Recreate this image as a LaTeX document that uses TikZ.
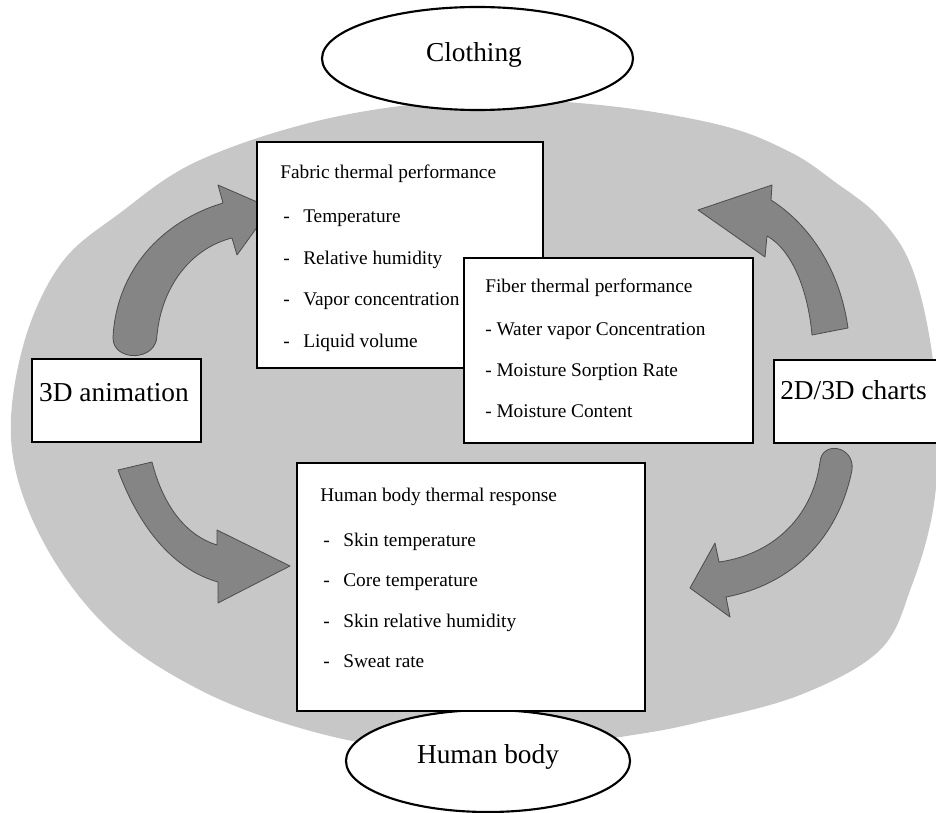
\documentclass[tikz,border=0pt]{standalone}
\usepackage{fontspec}
\setmainfont{Liberation Serif}
\usetikzlibrary{shapes.geometric}
\begin{document}
\begin{tikzpicture}[x=0.75pt,y=-0.75pt,
  field/.style={fill=black!22},
  flow/.style={fill=black!48, draw=black!70, line width=0.6pt, line join=round},
  frame/.style={draw=black, line width=1.7pt, fill=white, anchor=north west, inner sep=0pt, outer sep=0pt},
  oval/.style={ellipse, draw=black, line width=1.6pt, fill=white, inner sep=0pt},
  bigtext/.style={inner sep=0pt, font=\fontsize{20.5}{24}\selectfont},
  item/.style={anchor=west, inner sep=0pt, text height=10pt, text depth=3pt,
    font=\fontsize{14.5}{17}\selectfont}]
\useasboundingbox (0,0) rectangle (936,813);

% stippled background field
\fill[field] plot[smooth cycle, tension=0.6] coordinates {
  (470,100) (600,105) (720,125) (790,152) (835,182) (878,216) (910,263)
  (930,340) (938,430) (933,510) (912,585) (880,650) (800,695) (700,722)
  (633,735) (520,750) (400,748) (300,728) (200,690) (110,630) (45,545)
  (12,450) (22,350) (60,265) (120,213) (200,160) (330,118)};

% curved block arrows
\path[flow] (113,338) .. controls (116,272) and (160,222) .. (223,203)
  -- (218,185) -- (271,208) -- (237,255) -- (232,238)
  .. controls (192,248) and (162,285) .. (157,335)
  .. controls (157,362) and (113,362) .. (113,338) -- cycle;
\path[flow] (812,335) .. controls (808,290) and (792,250) .. (767,236)
  -- (765,257) -- (698,210) -- (772,185) -- (771,200)
  .. controls (810,225) and (840,270) .. (848,328) -- cycle;
\path[flow] (118,470) -- (152,462) .. controls (163,505) and (185,535) .. (217,545)
  -- (217,530) -- (290,566) -- (218,603) -- (218,582)
  .. controls (175,570) and (140,530) .. (118,470) -- cycle;
\path[flow] (820,462) .. controls (812,520) and (770,555) .. (719,562)
  -- (715,543) -- (690,588) -- (730,617) -- (726,597)
  .. controls (790,585) and (838,540) .. (852,470)
  .. controls (855,446) and (822,440) .. (820,462) -- cycle;

% top and bottom ovals
\node[oval, minimum width=233.25pt, minimum height=77.25pt] (clothing) at (477.5,58.5) {};
\node[bigtext] (clothinglabel) at (474,55) {Clothing};
\node[oval, minimum width=213pt, minimum height=76.5pt] (human) at (488,761) {};
\node[bigtext] (humanlabel) at (488,757) {Human body};

% side boxes
\node[frame, minimum width=126.75pt, minimum height=62.25pt] (anim) at (32,359) {};
\node[bigtext] (animlabel) at (114,393) {3D animation};
\node[frame, minimum width=132pt, minimum height=62.25pt] (charts) at (774,360) {};
\node[bigtext, anchor=west] (chartslabel) at (780,390) {2D/3D charts};

% fabric box
\node[frame, minimum width=214.5pt, minimum height=169.5pt] (fabric) at (257,142) {};
\node[item] (fabrict) at (280,174) {Fabric thermal performance};
\node[item] (fabd1) at (283,218) {-};
\node[item] (fab1) at (303,218) {Temperature};
\node[item] (fabd2) at (283,260) {-};
\node[item] (fab2) at (303,260) {Relative humidity};
\node[item] (fabd3) at (283,301) {-};
\node[item] (fab3) at (303,301) {Vapor concentration};
\node[item] (fabd4) at (283,343) {-};
\node[item] (fab4) at (303,343) {Liquid volume};

% fiber box
\node[frame, minimum width=216.75pt, minimum height=138.75pt] (fiber) at (464,258) {};
\node[item] (fibert) at (485,288) {Fiber thermal performance};
\node[item] (fib1) at (485,331) {- Water vapor Concentration};
\node[item] (fib2) at (485,372) {- Moisture Sorption Rate};
\node[item] (fib3) at (485,413) {- Moisture Content};

% human body box
\node[frame, minimum width=261pt, minimum height=186pt] (body) at (297,463) {};
\node[item] (bodyt) at (320,497) {Human body thermal response};
\node[item] (bodd1) at (323,542) {-};
\node[item] (bod1) at (343,542) {Skin temperature};
\node[item] (bodd2) at (323,582) {-};
\node[item] (bod2) at (343,582) {Core temperature};
\node[item] (bodd3) at (323,623) {-};
\node[item] (bod3) at (343,623) {Skin relative humidity};
\node[item] (bodd4) at (323,663) {-};
\node[item] (bod4) at (343,663) {Sweat rate};
\end{tikzpicture}
\end{document}
